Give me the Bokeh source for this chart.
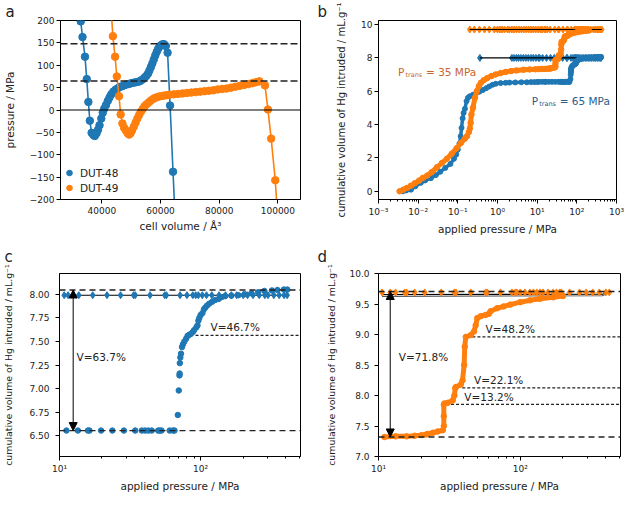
from bokeh.plotting import figure
from bokeh.layouts import column, row
from bokeh.models import (FixedTicker, CustomJSTickFormatter, Span, Label, Arrow, NormalHead, Title)
from bokeh.embed import file_html
from bokeh.resources import INLINE

BLUE = "#1f77b4"
ORANGE = "#ff7f0e"
FONT = "DejaVu Sans"
INK = "#222222"

# ---------------- panel a : pressure vs cell volume ----------------
a_vol_48 = [31500, 32800, 33400, 34250, 34850, 35400, 35900, 36500, 37100, 37600, 38200, 38700,
            39200, 39800, 40300, 40800, 41400, 42000, 42600, 43200, 43900, 44600, 45300, 46000,
            46800, 47600, 48400, 49200, 50000, 50800, 51600, 52400, 53100, 53800, 54500, 55100,
            55700, 56200, 56700, 57200, 57700, 58200, 58700, 59200, 59700, 60200, 60700, 61200,
            61800, 62400, 63250, 64250, 65300]
a_p_48 = [290, 198, 163, 119, 69, 18, -24, -51, -56, -58, -52, -44,
          -34, -19, -6, 3, 11, 20, 28, 35, 41, 45, 48, 51,
          53, 55, 57, 58, 60, 61, 62, 63, 65, 68, 72, 76,
          81, 88, 96, 104, 113, 122, 130, 137, 142, 145, 147, 147,
          143, 128, 10, -138, -290]
a_vol_49 = [42800, 43750, 44500, 45100, 45850, 46400, 47000, 47600, 48200, 48800, 49300, 49800,
            50300, 50900, 51500, 52100, 52700, 53300, 53900, 54500, 55100, 55800, 56500, 57300,
            58100, 59000, 60000, 61000, 62000, 63000, 64500, 66000, 67500, 69000, 70500, 72000,
            73500, 75000, 76500, 78000, 79500, 81000, 82500, 84000, 85500, 87000, 88500, 90000,
            91300, 92500, 93700, 95600, 96600, 97700, 99100, 100400]
a_p_49 = [260, 165, 119, 75, 31, -10, -30, -40, -46, -52, -55, -52,
          -45, -37, -28, -19, -11, -4, 2, 8, 12, 16, 20, 24,
          27, 29, 31, 32, 33, 34, 35, 36, 37, 38, 39, 40,
          41, 42, 43, 44, 46, 47, 48, 50, 52, 54, 56, 58,
          60, 62, 64, 55, 1, -64, -157, -290]
a_dashed_levels = [148, 65]
a_xticks = [40000, 60000, 80000, 100000]
a_yticks = [-200, -150, -100, -50, 0, 50, 100, 150, 200]

# ---------------- panel c : DUT-48 high pressure ----------------
c_p_48 = [11.2, 13.5, 15.9, 16.3, 19.7, 23.7, 28.6, 34.4, 38.3, 40.4, 42.6, 45.0, 50.0, 51.4,
          52.8, 60.3, 63.6, 65.3,
          68.9, 70.0, 70.8, 71.0, 71.2, 71.8, 72.6, 73.8, 75.0, 76.7, 79.0, 80.9, 83.0, 85.3,
          88.0, 90.0, 93.3, 95.0, 96.4, 98.0, 100.0, 103.0, 105.5, 108.0, 111.0, 115.0, 120.6,
          127.0, 134.0, 141.0, 149.0, 165.0, 185.0, 205.0, 229.0, 255.0, 283.0, 320.0, 350.0,
          389.0, 411.0]
c_v_48 = [6.555, 6.555, 6.555, 6.555, 6.555, 6.555, 6.555, 6.555, 6.555, 6.555, 6.555, 6.555,
          6.555, 6.555, 6.555, 6.555, 6.555, 6.555,
          6.72, 6.98, 7.14, 7.16, 7.27, 7.33, 7.37, 7.44, 7.47, 7.50, 7.53, 7.56, 7.57, 7.58,
          7.60, 7.62, 7.65, 7.67, 7.72, 7.75, 7.78, 7.80, 7.84, 7.86, 7.88, 7.90, 7.92,
          7.94, 7.95, 7.97, 7.98, 7.985, 7.99, 8.00, 8.01, 8.02, 8.035, 8.04, 8.045,
          8.05, 8.05]
c_ext_p = [10.8, 11.5, 13.7, 17.2, 21.7, 27.1, 33.5, 34.4, 43.8, 55.7, 57.2, 71.5, 80.0, 88.0,
           92.3, 96.3, 102.7, 110.0, 120.0, 135.0, 150.0, 165.0, 180.0, 200.0, 215.0, 235.0,
           260.0, 285.0, 300.0, 330.0, 360.0, 390.0, 410.0]
c_ext_level = 7.99
c_top, c_bottom, c_mid = 8.045, 6.555, 7.565
c_mid_from = 92.0
c_arrow_x = 12.5
c_yticks = [6.5, 6.75, 7.0, 7.25, 7.5, 7.75, 8.0]

# ---------------- panel d : DUT-49 high pressure ----------------
d_p_49 = [11.0, 13.2, 15.8, 18.0, 20.1, 21.7, 22.3, 24.2, 26.2, 28.4, 28.9, 28.9, 28.9, 29.2,
          30.8, 33.4, 34.3, 34.8, 35.2, 38.1, 39.2, 40.2, 40.6, 41.3, 44.8, 47.2, 48.5, 49.8,
          52.6, 57.0, 60.1, 61.7, 68.7, 76.4, 85.1, 100.0, 117.0, 138.0, 171.0, 200.0]
d_v_49 = [7.32, 7.33, 7.33, 7.34, 7.35, 7.36, 7.37, 7.39, 7.41, 7.43, 7.50, 7.66, 7.85, 7.87,
          7.88, 7.92, 8.00, 8.12, 8.14, 8.18, 8.25, 8.50, 8.80, 8.96, 8.99, 9.05, 9.15, 9.27,
          9.30, 9.32, 9.34, 9.38, 9.43, 9.46, 9.49, 9.53, 9.56, 9.585, 9.61, 9.63]
d_ext_p = [10.6, 12.1, 13.2, 15.3, 15.8, 18.0, 21.2, 27.7, 34.3, 35.2, 44.8, 57.0, 58.5, 72.5,
           87.4, 92.2, 94.8, 100.0, 108.0, 117.0, 124.0, 131.0, 138.0, 145.0, 157.0, 171.0,
           180.0, 190.0, 195.0, 223.0, 262.0, 292.0, 325.0, 361.0, 402.0, 425.0]
d_ext_level = 9.69
d_line_p = [10.6, 380.0, 425.0]
d_line_v1 = [9.655, 9.66, 9.70]
d_line_v2 = [9.625, 9.635, 9.69]
d_top, d_bottom = 9.705, 7.32
d_mid_levels = [8.96, 8.125, 7.855]
d_mid_from = [46.0, 39.0, 32.5]
d_arrow_x = 12.1
d_yticks = [7.0, 7.5, 8.0, 8.5, 9.0, 9.5, 10.0]

# ---------------- panel b : full intrusion curves ----------------
b_p_48_low = [0.0041, 0.005, 0.0066, 0.0085, 0.0117, 0.015, 0.021, 0.028, 0.036, 0.048, 0.065,
              0.08, 0.091, 0.1, 0.11, 0.118, 0.124, 0.132, 0.14, 0.151, 0.166, 0.18, 0.2, 0.24,
              0.29, 0.35, 0.43, 0.52, 0.62, 0.75, 0.9, 1.2, 1.6, 2.0, 2.8, 4.0, 5.5, 7.0, 8.5, 10.0]
b_v_48_low = [0.0, 0.05, 0.1, 0.3, 0.51, 0.65, 0.79, 0.97, 1.17, 1.4, 1.64,
              1.95, 2.2, 2.5, 2.86, 3.3, 3.8, 4.37, 4.7, 4.94, 5.4, 5.6, 5.69, 5.78,
              5.88, 5.97, 6.07, 6.18, 6.28, 6.38, 6.44, 6.48, 6.5, 6.51, 6.52, 6.53, 6.53, 6.54, 6.54, 6.55]
b_p_49_low = [0.0034, 0.0042, 0.0052, 0.0065, 0.0082, 0.0105, 0.013, 0.017, 0.022, 0.03, 0.04,
              0.053, 0.07, 0.093, 0.12, 0.15, 0.17, 0.19, 0.2, 0.21, 0.22, 0.24, 0.27, 0.3, 0.34,
              0.38, 0.45, 0.55, 0.7, 0.9, 1.2, 1.6, 2.2, 3.0, 4.5, 6.5, 9.0]
b_v_49_low = [0.0, 0.1, 0.2, 0.33, 0.48, 0.64, 0.8, 0.95, 1.15, 1.45, 1.7,
              1.95, 2.25, 2.58, 2.9, 3.15, 3.3, 3.55, 3.75, 4.1, 4.6, 5.0, 5.6, 6.0, 6.3,
              6.5, 6.65, 6.78, 6.9, 7.0, 7.08, 7.15, 7.2, 7.24, 7.28, 7.3, 7.31]
b_ext_p_48_low = [0.36, 2.3, 2.6, 3.0, 3.4, 3.9, 4.5, 5.2, 6.0, 7.0, 8.0, 9.3]
b_ext_p_49_low = [0.2, 0.26, 0.35, 0.47, 0.62, 0.83, 1.0, 1.15, 1.3, 1.5, 1.8, 2.0, 2.3, 2.6,
                  3.0, 3.5, 4.0, 4.6, 5.3, 6.1, 7.0, 8.0, 9.2]
b_yticks = [0, 2, 4, 6, 8, 10]
b_xticks = [0.001, 0.01, 0.1, 1, 10, 100, 1000]

b_p_48 = b_p_48_low + c_p_48
b_v_48 = b_v_48_low + c_v_48
b_p_49 = b_p_49_low + d_p_49
b_v_49 = b_v_49_low + d_v_49
b_ext_p_48 = b_ext_p_48_low + c_ext_p
b_ext_p_49 = b_ext_p_49_low + d_ext_p

minus_fmt = CustomJSTickFormatter(code='return tick < 0 ? "\\u2212" + (-tick) : String(tick);')
int_fmt = CustomJSTickFormatter(code='return tick.toFixed(0);')
log_fmt = CustomJSTickFormatter(code="""
const sup = {"-": "\\u207b", "0": "\\u2070", "1": "\\u00b9", "2": "\\u00b2", "3": "\\u00b3",
             "4": "\\u2074", "5": "\\u2075", "6": "\\u2076", "7": "\\u2077", "8": "\\u2078", "9": "\\u2079"};
const e = Math.round(Math.log10(tick));
return "10" + String(e).split("").map(c => sup[c]).join("");
""")


def minor_log(lo_exp, hi_exp):
    return [m * 10.0 ** d for d in range(lo_exp, hi_exp) for m in range(2, 10)]


def make_fig(w, h, xr, yr, bl, br, bt, bb, log=False):
    kw = dict(width=w, height=h, x_range=xr, y_range=yr, output_backend="svg",
              toolbar_location=None, title=None, min_border_left=bl, min_border_right=br,
              min_border_top=bt, min_border_bottom=bb)
    if log:
        kw["x_axis_type"] = "log"
    p = figure(**kw)
    p.xgrid.visible = False
    p.ygrid.visible = False
    p.outline_line_color = "black"
    p.outline_line_width = 1
    p.background_fill_color = "white"
    p.border_fill_color = "white"
    for ax in (p.xaxis[0], p.yaxis[0]):
        ax.axis_line_color = "black"
        ax.major_tick_line_color = "black"
        ax.minor_tick_line_color = "black"
        ax.major_tick_out = 4
        ax.major_tick_in = 0
        ax.minor_tick_out = 2
        ax.minor_tick_in = 0
        ax.major_label_text_font = FONT
        ax.major_label_text_font_size = "9px"
        ax.major_label_text_color = INK
        ax.axis_label_text_font = FONT
        ax.axis_label_text_font_size = "10.5px"
        ax.axis_label_text_font_style = "normal"
        ax.axis_label_text_color = INK
        ax.major_label_standoff = 3
        ax.axis_label_standoff = 3
    return p


def letter(p, txt, offset, standoff):
    p.add_layout(Title(text=txt, align="left", offset=offset, standoff=standoff,
                       text_font=FONT, text_font_size="15px", text_font_style="normal",
                       text_color=INK, text_line_height=1.0), "above")


def note(p, txt, x, y, color=INK, size="10.5px", baseline="middle", xo=0, yo=0):
    p.add_layout(Label(x=x, y=y, text=txt, text_font=FONT, text_font_size=size,
                       text_color=color, text_baseline=baseline, x_offset=xo, y_offset=yo))


def hspan(p, y, dash, width=1.3, color=INK):
    p.add_layout(Span(location=y, dimension="width", line_color=color,
                      line_width=width, line_dash=dash))


# ---------------- figure a ----------------
pa = make_fig(310, 237, (25900, 107700), (-200, 200), 55, 10, 16, 36)
pa.xaxis.ticker = FixedTicker(ticks=a_xticks, minor_ticks=[])
pa.xaxis.formatter = int_fmt
pa.yaxis.ticker = FixedTicker(ticks=a_yticks, minor_ticks=[])
pa.yaxis.formatter = minus_fmt
pa.xaxis.axis_label = "cell volume / Å³"
pa.yaxis.axis_label = "pressure / MPa"
pa.yaxis.major_label_standoff = 2
pa.yaxis.axis_label_standoff = 11
for lv in a_dashed_levels:
    hspan(pa, lv, "7 3", 1.5)
hspan(pa, 0, "solid", 1.2, "black")
pa.line(a_vol_48, a_p_48, line_color=BLUE, line_width=1.6)
pa.scatter(a_vol_48, a_p_48, size=7.5, color=BLUE, legend_label="DUT-48")
pa.line(a_vol_49, a_p_49, line_color=ORANGE, line_width=1.6)
pa.scatter(a_vol_49, a_p_49, size=7.5, color=ORANGE, legend_label="DUT-49")
lg = pa.legend[0]
lg.location = (2, 4)
lg.border_line_color = None
lg.background_fill_alpha = 0
lg.padding = 4
lg.spacing = 0
lg.margin = 0
lg.glyph_width = 14
lg.glyph_height = 15
lg.label_height = 15
lg.label_standoff = 4
lg.label_text_font = FONT
lg.label_text_font_size = "10.5px"
lg.label_text_color = INK
letter(pa, "a", -55, 0)

# ---------------- figure b ----------------
pb = make_fig(315, 237, (0.001, 1000), (-0.49, 10.23), 68, 9, 16, 36, log=True)
pb.xaxis.ticker = FixedTicker(ticks=b_xticks, minor_ticks=minor_log(-3, 3))
pb.xaxis.formatter = log_fmt
pb.yaxis.ticker = FixedTicker(ticks=b_yticks, minor_ticks=[])
pb.xaxis.axis_label = "applied pressure / MPa"
pb.yaxis.axis_label = "cumulative volume of Hg intruded / mL.g⁻¹"
pb.yaxis.axis_label_text_font_size = "10px"
pb.yaxis.major_label_standoff = 2
pb.yaxis.axis_label_standoff = 11
pb.scatter(b_ext_p_48, [c_ext_level] * len(b_ext_p_48), marker="diamond", size=7, color=BLUE)
pb.scatter(b_ext_p_49, [d_ext_level] * len(b_ext_p_49), marker="diamond", size=7, color=ORANGE)
pb.line(b_ext_p_48, [c_ext_level] * len(b_ext_p_48), line_color="black", line_width=1.1)
pb.line(b_ext_p_49, [d_ext_level] * len(b_ext_p_49), line_color="black", line_width=1.1)
pb.line(b_p_48, b_v_48, line_color=BLUE, line_width=3.5)
pb.scatter(b_p_48, b_v_48, size=5, color=BLUE)
pb.line(b_p_49, b_v_49, line_color=ORANGE, line_width=5)
pb.scatter(b_p_49, b_v_49, size=5.5, color=ORANGE)
# P_trans annotations
note(pb, "P", 0.0031, 7.16, color="#c9652c", baseline="alphabetic")
note(pb, "trans", 0.0031, 7.16, color="#c9652c", size="6.5px", baseline="alphabetic", xo=7.5, yo=-3)
note(pb, "= 35 MPa", 0.0031, 7.16, color="#c9652c", baseline="alphabetic", xo=28)
note(pb, "P", 7.28, 5.41, color="#2a5d8c", baseline="alphabetic")
note(pb, "trans", 7.28, 5.41, color="#2a5d8c", size="6.5px", baseline="alphabetic", xo=7.5, yo=-3)
note(pb, "= 65 MPa", 7.28, 5.41, color="#2a5d8c", baseline="alphabetic", xo=28)
letter(pb, "b", -61, 0)

# ---------------- figure c ----------------
pc = make_fig(310, 257, (10, 510), (6.28, 8.22), 55, 10, 31, 38, log=True)
pc.xaxis.ticker = FixedTicker(ticks=[10, 100], minor_ticks=minor_log(1, 3))
pc.xaxis.formatter = log_fmt
pc.yaxis.ticker = FixedTicker(ticks=c_yticks, minor_ticks=[])
pc.yaxis.formatter = CustomJSTickFormatter(code="return tick.toFixed(2);")
pc.xaxis.axis_label = "applied pressure / MPa"
pc.yaxis.axis_label = "cumulative volume of Hg intruded / mL.g⁻¹"
pc.yaxis.axis_label_text_font_size = "9.4px"
pc.yaxis.major_label_standoff = 6
pc.yaxis.axis_label_standoff = 12
hspan(pc, c_top, "6 4", 1.3)
hspan(pc, c_bottom, "6 4", 1.3)
pc.segment(x0=[c_mid_from], y0=[c_mid], x1=[510], y1=[c_mid], line_color=INK,
           line_width=1.2, line_dash="3 2")
pc.line(c_ext_p, [c_ext_level] * len(c_ext_p), line_color="black", line_width=1.1)
pc.scatter(c_ext_p, [c_ext_level] * len(c_ext_p), marker="diamond", size=7, color=BLUE)
pc.scatter(c_p_48, c_v_48, size=5.5, color=BLUE)
head = dict(size=8, fill_color="black", line_color="black")
pc.add_layout(Arrow(start=NormalHead(**head), end=NormalHead(**head), x_start=c_arrow_x,
                    y_start=c_bottom, x_end=c_arrow_x, y_end=c_top, line_color="black", line_width=1))
note(pc, "V=46.7%", 117.6, 7.658)
note(pc, "V=63.7%", 13.2, 7.33)
letter(pc, "c", -55, 16)

# ---------------- figure d ----------------
pd = make_fig(315, 257, (10, 510), (7.0, 10.0), 68, 5, 31, 38, log=True)
pd.xaxis.ticker = FixedTicker(ticks=[10, 100], minor_ticks=minor_log(1, 3))
pd.xaxis.formatter = log_fmt
pd.yaxis.ticker = FixedTicker(ticks=d_yticks, minor_ticks=[])
pd.yaxis.formatter = CustomJSTickFormatter(code="return tick.toFixed(1);")
pd.xaxis.axis_label = "applied pressure / MPa"
pd.yaxis.axis_label = "cumulative volume of Hg intruded / mL.g⁻¹"
pd.yaxis.axis_label_text_font_size = "9.4px"
pd.yaxis.major_label_standoff = 5
pd.yaxis.axis_label_standoff = 9
hspan(pd, d_top, "6 4", 1.3)
hspan(pd, d_bottom, "6 4", 1.3)
pd.segment(x0=d_mid_from, y0=d_mid_levels, x1=[510] * len(d_mid_levels), y1=d_mid_levels,
           line_color=INK, line_width=1.2, line_dash="3 2")
pd.line(d_line_p, d_line_v1, line_color="black", line_width=1.1)
pd.line(d_line_p, d_line_v2, line_color="#555555", line_width=1.1)
pd.scatter(d_ext_p, [d_ext_level] * len(d_ext_p), marker="diamond", size=7, color=ORANGE)
pd.line(d_p_49, d_v_49, line_color=ORANGE, line_width=5)
pd.scatter(d_p_49, d_v_49, size=5.5, color=ORANGE)
pd.add_layout(Arrow(start=NormalHead(**head), end=NormalHead(**head), x_start=d_arrow_x,
                    y_start=d_bottom, x_end=d_arrow_x, y_end=d_top, line_color="black", line_width=1))
note(pd, "V=48.2%", 57.0, 9.09)
note(pd, "V=22.1%", 47.2, 8.26)
note(pd, "V=13.2%", 40.3, 7.975)
note(pd, "V=71.8%", 13.9, 8.635)
letter(pd, "d", -61, 16)

layout = column(row(pa, pb), row(pc, pd))
open("out.html", "w").write(file_html(layout, INLINE))
